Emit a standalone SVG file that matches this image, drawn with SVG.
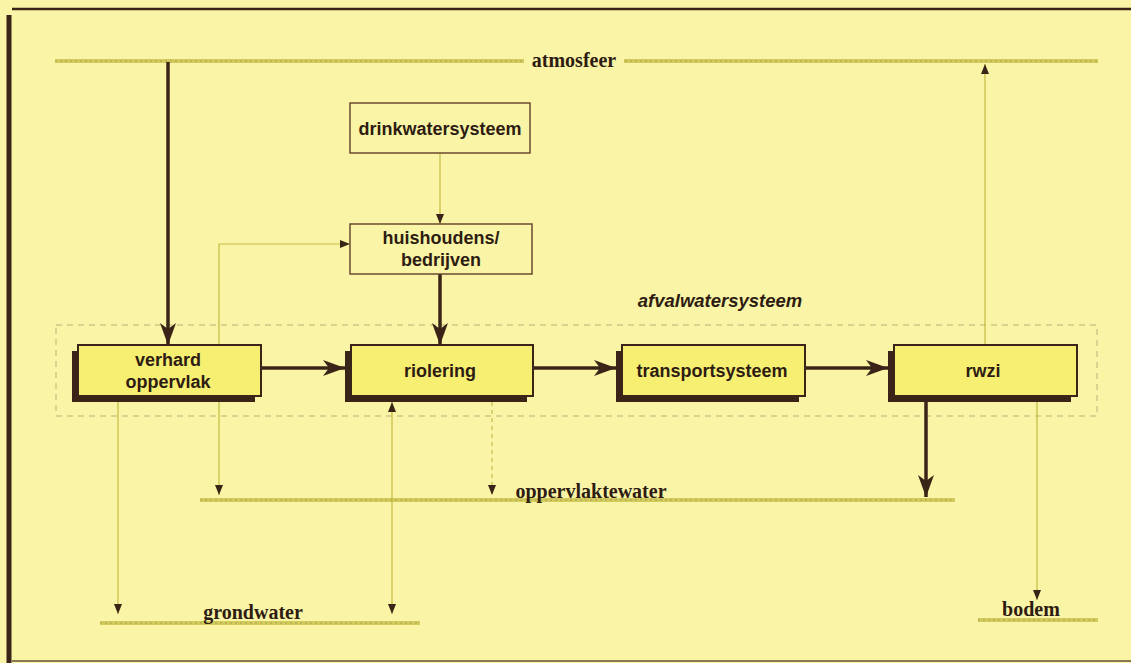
<svg xmlns="http://www.w3.org/2000/svg" width="1131" height="663" viewBox="0 0 1131 663">
<style>
.bg{fill:#faf5a6}
.frame{stroke:#3a2418;fill:none}
.ground{stroke:#d2ca5c;stroke-width:4;fill:none}
.groundh{stroke:#aaa248;stroke-width:1;stroke-dasharray:2 3;fill:none}
.thick{stroke:#3a2418;stroke-width:3.5;fill:none}
.thin{stroke:#c4bb40;stroke-width:1.2;fill:none}
.dash{stroke:#b7b07a;stroke-width:1;stroke-dasharray:6 5;fill:none}
.box{fill:#f7ef72;stroke:#3a2418;stroke-width:2}
.shadow{fill:#3a2418}
.plain{fill:none;stroke:#6a4a30;stroke-width:1.5}
.lbl{font-family:"Liberation Sans",Arial,sans-serif;font-weight:bold;font-size:18px;fill:#2e1c12;text-anchor:middle}
.sys{font-family:"Liberation Serif","Times New Roman",serif;font-weight:bold;font-size:20px;fill:#2e1c12;text-anchor:middle}
.ital{font-family:"Liberation Sans",Arial,sans-serif;font-weight:bold;font-style:italic;font-size:18.5px;fill:#2e1c12;text-anchor:middle}
</style>
<defs>
<marker id="big" markerWidth="22" markerHeight="16" refX="22" refY="8" orient="auto" markerUnits="userSpaceOnUse"><path d="M0,0 L22,8 L0,16 L6,8 z" fill="#3a2418"/></marker>
<marker id="sm" markerWidth="10" markerHeight="8" refX="10" refY="4" orient="auto-start-reverse" markerUnits="userSpaceOnUse"><path d="M0,0 L10,4 L0,8 z" fill="#3a2418"/></marker>
</defs>
<rect class="bg" x="0" y="0" width="1131" height="663"/>
<g id="frame">
<line class="frame" x1="12" y1="9" x2="1131" y2="9" stroke-width="2.5"/>
<line class="frame" x1="9" y1="15" x2="9" y2="663" stroke-width="5"/>
<line class="frame" x1="12" y1="661" x2="1131" y2="661" stroke-width="2" stroke-opacity="0.6"/>
</g>
<g id="reservoirs">
<g id="atmosfeer">
<line class="ground" x1="55" y1="61" x2="1098" y2="61"/>
<line class="groundh" x1="55" y1="61" x2="1098" y2="61"/>
<rect class="bg" x="524" y="50" width="100" height="20"/>
<text class="sys" x="574" y="67">atmosfeer</text>
</g>
<g id="oppervlaktewater">
<line class="ground" x1="200" y1="500" x2="955" y2="500"/>
<line class="groundh" x1="200" y1="500" x2="955" y2="500"/>
<rect class="bg" x="512" y="484" width="158" height="14"/>
<text class="sys" x="591" y="498">oppervlaktewater</text>
</g>
<g id="grondwater">
<line class="ground" x1="100" y1="623" x2="420" y2="623"/>
<line class="groundh" x1="100" y1="623" x2="420" y2="623"/>
<text class="sys" x="253" y="619">grondwater</text>
</g>
<g id="bodem">
<line class="ground" x1="978" y1="620" x2="1098" y2="620"/>
<line class="groundh" x1="978" y1="620" x2="1098" y2="620"/>
<text class="sys" x="1031" y="616">bodem</text>
</g>
</g>
<g id="afvalwatersysteem">
<rect class="dash" x="56" y="325" width="1041" height="91"/>
<text class="ital" x="720" y="307">afvalwatersysteem</text>
</g>
<g id="connectors">
<line class="thick" x1="168" y1="62" x2="168" y2="345" marker-end="url(#big)"/>
<line class="thick" x1="440" y1="274" x2="440" y2="345" marker-end="url(#big)"/>
<line class="thick" x1="261" y1="368" x2="345" y2="368" marker-end="url(#big)"/>
<line class="thick" x1="533" y1="368" x2="616" y2="368" marker-end="url(#big)"/>
<line class="thick" x1="805" y1="368" x2="888" y2="368" marker-end="url(#big)"/>
<line class="thick" x1="926" y1="400" x2="926" y2="497" marker-end="url(#big)"/>
<line class="thin" x1="440" y1="153" x2="440" y2="224" marker-end="url(#sm)"/>
<polyline class="thin" points="219,495 219,244 350,244" marker-start="url(#sm)" marker-end="url(#sm)"/>
<line class="thin" x1="118" y1="402" x2="118" y2="614" marker-end="url(#sm)"/>
<line class="thin" x1="392" y1="402" x2="392" y2="614" marker-start="url(#sm)" marker-end="url(#sm)"/>
<line class="thin" x1="492" y1="402" x2="492" y2="495" stroke-dasharray="4 4" marker-end="url(#sm)"/>
<line class="thin" x1="985" y1="345" x2="985" y2="64" marker-end="url(#sm)"/>
<line class="thin" x1="1037" y1="400" x2="1037" y2="600" marker-end="url(#sm)"/>
</g>
<g id="drinkwatersysteem">
<rect class="plain" x="350" y="103" width="180" height="50"/>
<text class="lbl" x="440" y="135">drinkwatersysteem</text>
</g>
<g id="huishoudens">
<rect class="plain" x="350" y="224" width="182" height="50"/>
<text class="lbl" x="441" y="244">huishoudens/</text>
<text class="lbl" x="441" y="266">bedrijven</text>
</g>
<g id="verhard">
<rect class="shadow" x="72" y="351" width="183" height="51"/>
<rect class="box" x="78" y="345" width="183" height="51"/>
<text class="lbl" x="168" y="366">verhard</text>
<text class="lbl" x="168" y="388">oppervlak</text>
</g>
<g id="riolering">
<rect class="shadow" x="345" y="351" width="182" height="51"/>
<rect class="box" x="351" y="345" width="182" height="51"/>
<text class="lbl" x="440" y="377">riolering</text>
</g>
<g id="transportsysteem">
<rect class="shadow" x="616" y="351" width="183" height="51"/>
<rect class="box" x="622" y="345" width="183" height="51"/>
<text class="lbl" x="712" y="377">transportsysteem</text>
</g>
<g id="rwzi">
<rect class="shadow" x="888" y="351" width="183" height="51"/>
<rect class="box" x="894" y="345" width="183" height="51"/>
<text class="lbl" x="983" y="377">rwzi</text>
</g>
</svg>
